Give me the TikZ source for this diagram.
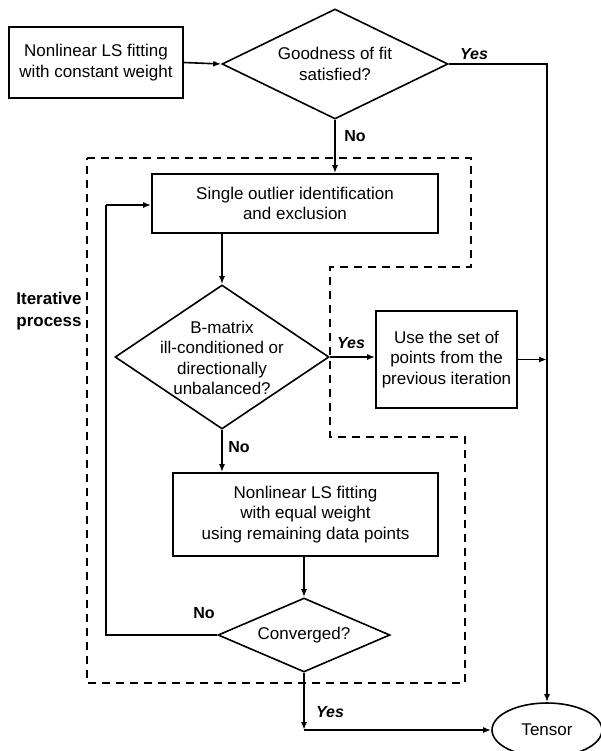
\documentclass[tikz,border=0pt]{standalone}
\usepackage{fontspec}
\setmainfont{Liberation Sans}
\usetikzlibrary{shapes.geometric,arrows.meta}
\begin{document}
\begin{tikzpicture}[x=1pt,y=-1pt,
  line width=1.6pt,
  box/.style={draw, rectangle, inner sep=0pt, line width=1.6pt, align=center, font=\fontsize{17}{20.5}\selectfont},
  dia/.style={draw, diamond, inner sep=0pt, line width=1.6pt},
  txt/.style={align=center, font=\fontsize{17}{20.5}\selectfont, inner sep=0pt},
  labno/.style={font=\fontsize{16}{18}\selectfont\bfseries, inner sep=0pt},
  labyes/.style={font=\fontsize{16}{18}\selectfont\bfseries\itshape, inner sep=0pt},
  arr/.style={-{Latex[length=8pt,width=6pt]}},
  dashreg/.style={line width=1.5pt, dash pattern=on 8pt off 6pt},
  loopline/.style={line width=2.8pt}
]
\useasboundingbox (0,0) rectangle (600,751);
\fill[white] (0,0) rectangle (600,751);

% nodes
\node[box, minimum width=174pt, minimum height=71pt] (b1) at (96,62.5) {Nonlinear LS fitting\\with constant weight};
\node[dia, minimum width=226pt, minimum height=110pt] (gof) at (335,64) {};
\node[txt] (goft) at (335,64) {Goodness of fit\\satisfied?};

\node[box, minimum width=286pt, minimum height=59pt] (so) at (295,203.5) {Single outlier identification\\and exclusion};

\node[dia, minimum width=214pt, minimum height=144pt] (bm) at (222,357) {};
\node[txt] (bmt) at (222,358) {B-matrix\\ill-conditioned or\\directionally\\unbalanced?};

\node[box, minimum width=141pt, minimum height=97pt] (use) at (446.5,359.5) {Use the set of\\points from the\\previous iteration};

\node[box, minimum width=265pt, minimum height=83pt] (b2) at (305.5,514.5) {Nonlinear LS fitting\\with equal weight\\using remaining data points};

\node[dia, minimum width=172pt, minimum height=74pt] (conv) at (304,635) {};
\node[txt] (convt) at (304,635) {Converged?};

\node[draw, ellipse, minimum width=110pt, minimum height=54pt, inner sep=0pt, font=\fontsize{17}{20.5}\selectfont] (ten) at (547,730) {Tensor};

\node[font=\fontsize{17}{22}\selectfont\bfseries, align=center, inner sep=0pt] (iter) at (49,311) {Iterative\\process};

% dashed region
\draw[dashreg] (87,158) -- (471,158) -- (471,267) -- (330,267) -- (330,437) -- (465,437) -- (465,683) -- (87,683) -- cycle;

% connectors
\draw[arr] (b1.east) -- (gof.west);
\draw[arr] (gof.east) -- (gof.east -| ten.north) -- (ten.north);
\draw[arr] (gof.south) -- (gof.south |- so.north);
\draw[arr] (bm.north |- so.south) -- (bm.north);
\draw[arr] (bm.east) -- (bm.east -| use.west);
\draw[arr] (use.east) -- (use.east -| ten.north);
\draw[arr] (bm.south) -- (bm.south |- b2.north);
\draw[arr] (conv.north |- b2.south) -- (conv.north);
\coordinate (lc) at (106,635);
\coordinate (lt) at (106,205);
\draw[loopline] (conv.west) -- (lc) -- (lt);
\draw[arr] (lt) -- (lt -| so.west);
\coordinate (cy) at (304,730);
\draw[arr] (conv.south) -- (cy);
\draw[arr] (cy) -- (ten.west);

% labels
\node[labyes] (y1) at (474,54) {Yes};
\node[labno] (n1) at (355,136) {No};
\node[labyes] (y2) at (351,343) {Yes};
\node[labno] (n2) at (239,447) {No};
\node[labno] (n3) at (204,613) {No};
\node[labyes] (y3) at (330,712) {Yes};
\end{tikzpicture}
\end{document}
